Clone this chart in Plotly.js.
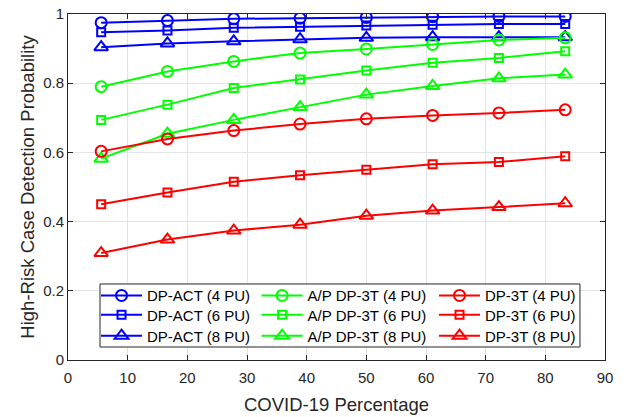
<!DOCTYPE html>
<html>
<head>
<meta charset="utf-8">
<script src="https://cdn.plot.ly/plotly-3.0.1.min.js"></script>
<style>html,body{margin:0;padding:0;background:#fff;}#chart{width:626px;height:417px;}</style>
</head>
<body>
<div id="chart"></div>
<script>
// Data
const covidPct = [5.56, 16.67, 27.78, 38.89, 50, 61.11, 72.22, 83.33];

const dpact4 = [0.975, 0.981, 0.986, 0.988, 0.990, 0.992, 0.993, 0.993];
const dpact6 = [0.947, 0.952, 0.960, 0.963, 0.967, 0.969, 0.971, 0.971];
const dpact8 = [0.904, 0.915, 0.921, 0.927, 0.931, 0.933, 0.933, 0.933];

const apdp3t4 = [0.790, 0.834, 0.863, 0.887, 0.899, 0.912, 0.925, 0.931];
const apdp3t6 = [0.694, 0.738, 0.786, 0.811, 0.837, 0.859, 0.873, 0.892];
const apdp3t8 = [0.582, 0.654, 0.694, 0.731, 0.767, 0.792, 0.814, 0.825];

const dp3t4 = [0.603, 0.639, 0.663, 0.682, 0.697, 0.707, 0.714, 0.723];
const dp3t6 = [0.450, 0.484, 0.515, 0.534, 0.550, 0.566, 0.572, 0.589];
const dp3t8 = [0.309, 0.348, 0.374, 0.391, 0.417, 0.432, 0.442, 0.453];

const seriesNames = [
  "DP-ACT (4 PU)", "DP-ACT (6 PU)", "DP-ACT (8 PU)",
  "A/P DP-3T (4 PU)", "A/P DP-3T (6 PU)", "A/P DP-3T (8 PU)",
  "DP-3T (4 PU)", "DP-3T (6 PU)", "DP-3T (8 PU)"
];
const seriesValues = [dpact4, dpact6, dpact8, apdp3t4, apdp3t6, apdp3t8, dp3t4, dp3t6, dp3t8];
const xTickVals = [0, 10, 20, 30, 40, 50, 60, 70, 80, 90];
const yTickVals = [0, 0.2, 0.4, 0.6, 0.8, 1];
const yTickText = ["0", "0.2", "0.4", "0.6", "0.8", "1"];

const colors = ["#0000ff", "#00ff00", "#ff0000"];
const symbols = ["circle-open", "square-open", "triangle-up-open"];
const sizes = [11, 8, 12];

// legend grid: one small legend per entry (columns = method, rows = PU count)
const legendColX = [0.0522, 0.3512, 0.6816];
const legendRowY = [0.1858, 0.1301, 0.0694];

const traces = seriesValues.map((vals, i) => {
  const g = Math.floor(i / 3), k = i % 3;
  return {
    x: covidPct, y: vals, name: seriesNames[i],
    type: "scatter", mode: "lines+markers",
    line: {color: colors[g], width: 2},
    marker: {symbol: symbols[k], size: sizes[k], color: colors[g], line: {color: colors[g], width: 2}},
    legend: i === 0 ? "legend" : "legend" + (i + 1)
  };
});

const font = "'Liberation Sans', Arial, Helvetica, sans-serif";
const axisCommon = {
  showline: true, linecolor: "#262626", linewidth: 1, mirror: "ticks",
  ticks: "inside", ticklen: 5, tickcolor: "#262626", tickwidth: 1,
  showgrid: true, gridcolor: "#e3e3e3", gridwidth: 1, zeroline: false,
  automargin: false,
  tickfont: {family: font, size: 15, color: "#262626"}
};

const layout = {
  width: 626, height: 417,
  margin: {l: 68, r: 21, t: 14, b: 57},
  paper_bgcolor: "#ffffff", plot_bgcolor: "#ffffff",
  xaxis: Object.assign({}, axisCommon, {
    range: [0, 90], tickvals: xTickVals, ticktext: xTickVals.map(String),
    ticklabelstandoff: 4,
    title: {text: "COVID-19 Percentage", font: {family: font, size: 18.5, color: "#262626"}, standoff: 13}
  }),
  yaxis: Object.assign({}, axisCommon, {
    range: [0, 1], tickvals: yTickVals, ticktext: yTickText,
    title: {text: "High-Risk Case Detection Probability", font: {family: font, size: 18.5, color: "#262626"}, standoff: 3}
  }),
  showlegend: true,
  shapes: [{
    type: "rect", xref: "paper", yref: "paper", layer: "above",
    x0: 0.0596, x1: 0.9534, y0: 0.0376, y1: 0.2197,
    fillcolor: "#ffffff", line: {color: "#262626", width: 1}
  }]
};

seriesValues.forEach((_, i) => {
  const g = Math.floor(i / 3), k = i % 3;
  const key = i === 0 ? "legend" : "legend" + (i + 1);
  layout[key] = {
    x: legendColX[g], xanchor: "left", y: legendRowY[k], yanchor: "middle",
    bgcolor: "rgba(0,0,0,0)", borderwidth: 0,
    font: {family: font, size: 15, color: "#000000"},
    itemwidth: 41
  };
});

Plotly.newPlot("chart", traces, layout, {displayModeBar: false, staticPlot: true});
</script>
</body>
</html>
